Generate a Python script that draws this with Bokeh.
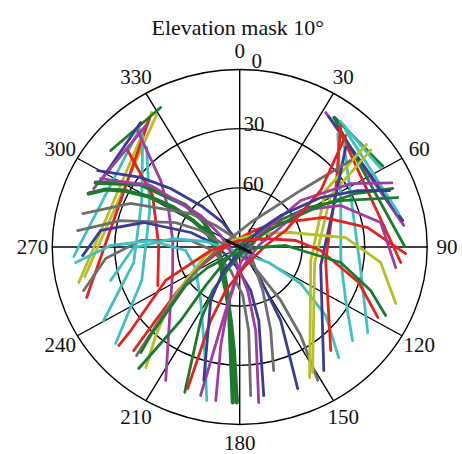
import numpy as np
from bokeh.plotting import figure
from bokeh.models import Range1d
from bokeh.embed import file_html
from bokeh.resources import INLINE
from bokeh.core.properties import value

# ---------------- chart values ----------------
title_text = "Elevation mask  10°"
az_ticks = [0, 30, 60, 90, 120, 150, 180, 210, 240, 270, 300, 330]
az_labels = ["0", "30", "60", "90", "120", "150", "180", "210", "240", "270", "300", "330"]
el_rings = [0, 30, 60]
el_ticks = [0, 30, 60, 90]
el_labels = ["0", "30", "60", "90"]

# satellite tracks: azimuth (deg), elevation (deg)
sv01_az = [328.2, 256.9]; sv01_el = [9.8, 10.7]
sv02_az = [329.3, 258.6]; sv02_el = [11.9, 14.1]
sv03_az = [326.7, 250.8]; sv03_el = [11.4, 12.2]
sv04_az = [321.4, 266.5]; sv04_el = [13.1, 10.2]
sv05_az = [331.8, 308.3]; sv05_el = [9.7, 11.1]
sv06_az = [323.0, 295.4]; sv06_el = [11.0, 15.1]
sv07_az = [324.3, 292.9]; sv07_el = [13.5, 13.9]
sv09_az = [320.5, 296.6, 261.2, 240.3]; sv09_el = [16.8, 37.4, 38.5, 14.8]
sv10_az = [318.5, 293.2, 250.1, 230.6]; sv10_el = [22.6, 43.0, 40.0, 12.9]
sv11_az = [312.3, 302.0, 271.1, 243.6]; sv11_el = [17.3, 40.7, 51.1, 46.1]
sv12_az = [320.3, 311.6, 298.5, 275.9, 249.7, 230.7, 207.7]
sv12_el = [13.3, 39.3, 51.2, 57.7, 55.7, 47.2, 13.6]
sv13_az = [290.5, 294.4, 297.2, 300.4, 302.3, 300.8, 294.0, 246.8, 196.9, 186.6, 183.1, 181.0]
sv13_el = [12.6, 19.4, 27.4, 39.4, 52.5, 63.7, 73.2, 79.0, 67.0, 52.5, 37.5, 11.2]
sv14_az = [295.3, 303.7, 309.1, 307.1, 286.0, 221.0, 191.0, 184.7, 182.4]
sv14_el = [13.5, 32.9, 56.6, 67.7, 78.0, 77.6, 62.4, 37.4, 11.1]
sv15_az = [299.6, 306.6, 311.8, 318.3, 326.7, 32.3, 147.7, 152.2, 158.8]
sv15_el = [11.6, 30.8, 45.5, 61.8, 75.1, 89.1, 72.9, 47.9, 13.0]
sv16_az = [282.7, 292.9, 305.8, 313.4, 336.0, 137.6, 153.4, 160.6, 165.4]
sv16_el = [12.8, 33.2, 61.0, 74.1, 85.3, 80.7, 65.3, 45.1, 25.3]
sv17_az = [276.1, 283.2, 292.0, 294.1, 276.5, 146.1, 144.0, 146.9, 151.0]
sv17_el = [11.8, 31.3, 56.9, 69.5, 83.2, 80.5, 56.5, 36.4, 12.7]
sv18_az = [253.6, 264.8, 274.0, 278.0, 262.2, 199.9, 176.6, 174.2, 176.0]
sv18_el = [11.9, 25.4, 42.4, 66.3, 76.9, 77.3, 65.4, 47.4, 14.5]
sv19_az = [266.7, 277.2, 285.1, 287.4, 276.3, 191.6, 166.5, 166.2, 171.3]
sv19_el = [14.5, 22.8, 42.3, 65.4, 78.4, 80.4, 67.3, 51.6, 13.8]
sv20_az = [254.7, 269.7, 277.7, 279.7, 238.4, 119.5, 122.3, 130.1, 139.7]
sv20_el = [25.8, 39.1, 58.0, 73.4, 86.6, 74.0, 55.4, 36.1, 16.5]
sv21_az = [297.5, 306.1, 310.5, 302.6, 195.7, 170.1, 169.7, 173.4]
sv21_el = [14.8, 37.1, 65.4, 79.2, 82.9, 67.6, 47.0, 10.6]
sv22_az = [264.3, 270.7, 274.4, 266.1, 242.7, 214.6, 197.8, 191.5]
sv22_el = [10.9, 28.1, 47.2, 64.0, 66.2, 57.0, 34.9, 10.6]
sv23_az = [31.2, 82.1]; sv23_el = [10.3, 10.5]
sv24_az = [34.5, 89.8]; sv24_el = [10.3, 10.8]
sv25_az = [32.9, 80.3]; sv25_el = [11.2, 10.6]
sv26_az = [34.7, 59.2]; sv26_el = [10.0, 10.0]
sv27_az = [40.7, 77.5]; sv27_el = [12.0, 11.8]
sv28_az = [38.3, 95.8]; sv28_el = [13.4, 12.3]
sv29_az = [37.1, 59.5]; sv29_el = [10.0, 11.5]
sv30_az = [39.3, 64.1, 98.0, 118.1, 131.2]; sv30_el = [15.7, 36.1, 41.0, 32.3, 18.0]
sv31_az = [42.7, 71.2, 101.6, 125.2]; sv31_el = [16.5, 32.7, 30.7, 14.8]
sv32_az = [38.2, 58.1, 99.4, 140.2]; sv32_el = [11.6, 35.7, 48.2, 21.7]
sv33_az = [49.5, 55.2, 101.3, 153.1]; sv33_el = [10.0, 39.8, 55.2, 15.8]
sv34_az = [52.0, 59.1, 102.3, 151.2]; sv34_el = [10.0, 39.1, 53.2, 17.4]
sv35_az = [45.2, 65.0, 103.6, 147.2]; sv35_el = [18.3, 40.2, 50.0, 15.5]
sv36_az = [92.4, 80.9, 69.6, 53.9, 42.6, 5.7, 257.3, 240.6, 232.5, 227.3, 224.1]
sv36_el = [10.3, 27.8, 47.0, 69.8, 78.0, 85.2, 79.7, 65.8, 51.3, 35.1, 16.9]
sv37_az = [110.9, 96.6, 84.6, 73.3, 55.8, 307.4, 255.2, 236.8, 229.0, 221.9, 216.4]
sv37_el = [9.8, 21.9, 38.9, 64.4, 77.8, 84.6, 73.1, 59.0, 44.8, 29.7, 14.1]
sv38_az = [71.7, 64.1, 58.5, 52.0, 41.1, 224.5, 219.9, 217.2, 218.2]
sv38_el = [10.1, 36.1, 51.7, 72.3, 85.6, 80.4, 64.6, 43.2, 11.6]
sv39_az = [50.5, 45.6, 23.0, 299.8, 247.3, 234.5, 227.8, 222.0]
sv39_el = [21.0, 49.0, 76.5, 83.4, 72.3, 58.1, 42.1, 16.0]
sv40_az = [66.0, 58.9, 51.2, 57.4, 176.5, 191.0, 190.3, 188.4]
sv40_el = [10.0, 27.8, 52.4, 79.2, 82.1, 62.4, 39.2, 11.3]
sv41_az = [97.9, 79.6, 66.5, 57.7, 85.2, 182.1, 191.8, 194.0]
sv41_el = [14.4, 21.2, 37.2, 55.4, 80.9, 77.1, 57.1, 12.4]
sv42_az = [68.0, 64.0, 61.6, 57.8, 80.0, 204.7, 210.4, 206.7, 199.7]
sv42_el = [10.8, 28.1, 45.8, 72.4, 85.6, 79.7, 64.4, 48.3, 11.7]
sv43_az = [42.0, 53.6, 69.2, 86.5, 162.9, 196.9, 200.5, 199.2]
sv43_el = [14.0, 41.7, 66.4, 77.5, 80.2, 67.0, 50.2, 14.0]
sv44_az = [68.3, 63.2, 57.2, 50.9, 47.5, 164.8, 212.3, 207.2, 194.3]
sv44_el = [12.5, 26.5, 43.7, 64.7, 77.6, 88.2, 74.7, 59.5, 20.2]
sv45_az = [229.3, 231.0, 244.5, 262.8, 351.7, 71.0, 83.0, 92.6, 107.5, 118.3]
sv45_el = [13.4, 22.7, 50.6, 76.0, 86.7, 76.8, 62.9, 51.1, 30.1, 14.7]
sv46_az = [221.6, 223.6, 233.0, 235.9, 225.0, 91.6, 88.0, 99.2, 109.3, 116.4]
sv46_el = [18.5, 28.0, 57.6, 71.5, 83.9, 80.9, 67.9, 40.9, 23.4, 11.8]
sv47_az = [297.9, 117.5, 117.9]; sv47_el = [83.0, 89.5, 84.0]

# ---------------- styling ----------------
RED = "#e5231d"; GREEN = "#1c7a2f"; BLUE = "#3b3a97"; MAG = "#a03ca4"
CYAN = "#3fc1bf"; GRAY = "#6e6e6e"; OLIVE = "#b6bf25"; BLACK = "#111111"

tracks = [
    (sv01_az, sv01_el, OLIVE, 2.8), (sv02_az, sv02_el, OLIVE, 2.8), (sv03_az, sv03_el, RED, 2.8),
    (sv04_az, sv04_el, CYAN, 2.8), (sv05_az, sv05_el, GREEN, 2.8), (sv06_az, sv06_el, BLUE, 2.8),
    (sv07_az, sv07_el, MAG, 2.8), (sv09_az, sv09_el, CYAN, 2.8), (sv10_az, sv10_el, CYAN, 2.8),
    (sv11_az, sv11_el, RED, 2.8), (sv12_az, sv12_el, MAG, 2.8), (sv13_az, sv13_el, GREEN, 4.2),
    (sv14_az, sv14_el, GREEN, 4.2), (sv15_az, sv15_el, BLUE, 2.8), (sv16_az, sv16_el, GRAY, 2.8),
    (sv17_az, sv17_el, GRAY, 2.8), (sv18_az, sv18_el, GRAY, 2.8), (sv19_az, sv19_el, BLUE, 2.8),
    (sv20_az, sv20_el, CYAN, 2.8), (sv21_az, sv21_el, MAG, 2.8), (sv22_az, sv22_el, CYAN, 2.8),
    (sv23_az, sv23_el, MAG, 2.8), (sv24_az, sv24_el, GREEN, 2.8), (sv25_az, sv25_el, BLUE, 2.8),
    (sv26_az, sv26_el, GREEN, 2.8), (sv27_az, sv27_el, CYAN, 2.8), (sv28_az, sv28_el, RED, 2.8),
    (sv29_az, sv29_el, CYAN, 2.8), (sv30_az, sv30_el, CYAN, 2.8), (sv31_az, sv31_el, CYAN, 2.8),
    (sv32_az, sv32_el, RED, 2.8), (sv33_az, sv33_el, OLIVE, 2.8), (sv34_az, sv34_el, OLIVE, 2.8),
    (sv35_az, sv35_el, BLUE, 2.8), (sv36_az, sv36_el, RED, 2.8), (sv37_az, sv37_el, OLIVE, 2.8),
    (sv38_az, sv38_el, GREEN, 2.8), (sv39_az, sv39_el, GRAY, 2.8), (sv40_az, sv40_el, MAG, 2.8),
    (sv41_az, sv41_el, MAG, 2.8), (sv42_az, sv42_el, GREEN, 2.8), (sv43_az, sv43_el, RED, 2.8),
    (sv44_az, sv44_el, BLUE, 2.8), (sv45_az, sv45_el, RED, 2.8), (sv46_az, sv46_el, GREEN, 2.8),
    (sv47_az, sv47_el, BLACK, 3.0),
]

FONT = "Liberation Serif"


def project(az, el):
    az = np.radians(np.asarray(az, dtype=float))
    r = 90.0 - np.asarray(el, dtype=float)
    return r * np.sin(az), r * np.cos(az)


p = figure(width=462, height=454, output_backend="svg", toolbar_location=None,
           x_range=Range1d(-114.82, 106.94), y_range=Range1d(-105.21, 124.99),
           x_axis_type=None, y_axis_type=None, min_border=0,
           background_fill_color="white", border_fill_color="white")
p.grid.visible = False
p.outline_line_color = None

# grid rings and spokes
ring_d = [2 * (90 - e) for e in el_rings]
p.ellipse(x=[0] * len(ring_d), y=[0] * len(ring_d), width=ring_d, height=ring_d,
          fill_color=None, line_color="black", line_width=1.4)
sx, sy = project(az_ticks, [0] * len(az_ticks))
p.segment(x0=[0] * len(az_ticks), y0=[0] * len(az_ticks), x1=sx, y1=sy,
          line_color="black", line_width=1.4)

# elevation labels
el_dx = [5.7, 1.8, 1.5, 3.8]
el_dy = [4.1, 2.6, 2.2, 6.0]
p.text(x=el_dx, y=[(90 - e) + d for e, d in zip(el_ticks, el_dy)], text=el_labels,
       text_font=value(FONT), text_font_size="21px", text_color="#111111",
       text_align="left", text_baseline="alphabetic")

# tracks
for az, el, col, w in tracks:
    x, y = project(az, el)
    p.line(x, y, line_color=col, line_width=w, line_join="round", line_cap="round")

# azimuth labels
lx, ly = project(az_ticks, [-9.5] * len(az_ticks))
p.text(x=lx, y=ly, text=az_labels, text_font=value(FONT), text_font_size="21px",
       text_color="#111111", text_align="center", text_baseline="middle")

# title
p.text(x=[0.4], y=[111.3], text=[title_text], text_font=value(FONT),
       text_font_size="22px", text_color="#111111", text_align="center",
       text_baseline="alphabetic")

open("out.html", "w").write(file_html(p, INLINE))
